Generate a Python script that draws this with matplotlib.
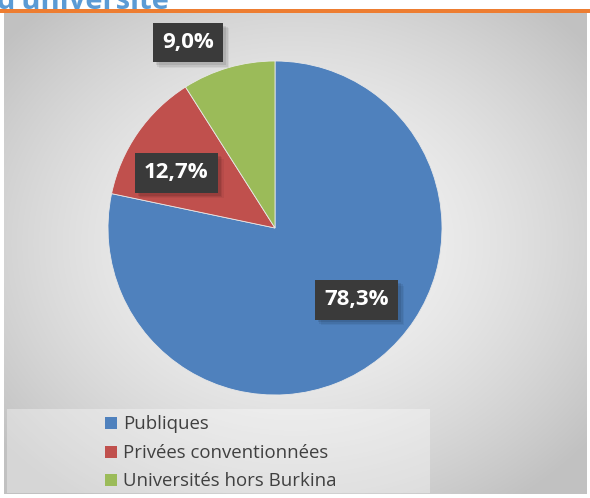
import numpy as np
import matplotlib
matplotlib.use("Agg")
import matplotlib.pyplot as plt
from matplotlib.patches import Rectangle
import matplotlib.patheffects as pe

# Répartition des étudiants par type d'université
categories = ["Publiques", "Privées conventionnées", "Universités hors Burkina"]
values = [78.3, 12.7, 9.0]
colors = ["#4F81BD", "#C0504D", "#9BBB59"]
label_pos = [(0.49, -0.43), (-0.59, 0.33), (-0.52, 1.11)]
title_text = "d'université"

W, H = 590, 498
fig = plt.figure(figsize=(W / 100, H / 100), dpi=100)
fig.patch.set_facecolor("white")

def fx(px):
    return px / W

def fy(py):
    return 1 - py / H

# chart frame with soft radial gradient
bg = fig.add_axes([fx(4), fy(494), fx(587) - fx(4), fy(13) - fy(494)])
yy, xx = np.mgrid[0:1:300j, 0:1:400j]
r = np.sqrt(((xx - 0.5) / 0.62) ** 2 + ((yy - 0.52) / 0.62) ** 2)
shade = np.clip(0.965 - 0.19 * r ** 1.6, 0.76, 1)
bg.imshow(np.dstack([shade] * 3), extent=[0, 1, 0, 1], aspect="auto",
          origin="lower", interpolation="bicubic")
bg.set_xlim(0, 1)
bg.set_ylim(0, 1)
bg.set_axis_off()

# title fragment and orange rule
fig.text(fx(-3), fy(9), title_text, color="#5B9BD5", fontsize=21,
         fontweight="bold", family="Open Sans", ha="left", va="baseline")
fig.add_artist(Rectangle((0, fy(13)), 1, fy(9) - fy(13),
                         transform=fig.transFigure, color="#ED7D31", lw=0))

# pie
cx, cy, rad = 275, 228, 167
ax = fig.add_axes([fx(cx - rad), fy(cy + rad), 2 * rad / W, 2 * rad / H])
wedges, _ = ax.pie(values, colors=colors, startangle=90, counterclock=False,
                   radius=1, wedgeprops=dict(linewidth=0.6, edgecolor="#e8e8e8"))
ax.set_xlim(-1, 1)
ax.set_ylim(-1, 1)
ax.set_aspect("auto")
ax.set_axis_off()

plt.rcParams["hatch.color"] = "#505050"
plt.rcParams["hatch.linewidth"] = 1.5
shadow = [pe.SimplePatchShadow(offset=(o, -o), shadow_rgbFace="black", alpha=a)
          for o, a in ((4, 0.05), (3, 0.07), (2, 0.09))]
for v, (lx, ly) in zip(values, label_pos):
    t = ax.text(lx, ly, f"{v:.1f}%".replace(".", ","), ha="center", va="center",
                color="white", fontsize=16, fontweight="bold", family="Open Sans",
                bbox=dict(boxstyle="square,pad=0.42", facecolor="#3a3a3a",
                          edgecolor="none", hatch=".."), zorder=5)
    t.get_bbox_patch().set_path_effects(shadow + [pe.Normal()])

# legend
fig.add_artist(Rectangle((fx(7), fy(493)), fx(430) - fx(7), fy(409) - fy(493),
                         transform=fig.transFigure, facecolor="white", alpha=0.35,
                         lw=0))
row_y = [423, 452, 480]
for lab, col, yv in zip(categories, colors, row_y):
    fig.add_artist(Rectangle((fx(105), fy(yv + 6)), 12 / W, 12 / H,
                             transform=fig.transFigure, color=col, lw=0))
    fig.text(fx(123), fy(yv + 1), lab, ha="left", va="center", color="#404040",
             fontsize=13.4, family="Open Sans")

fig.savefig("out.png", dpi=100)
